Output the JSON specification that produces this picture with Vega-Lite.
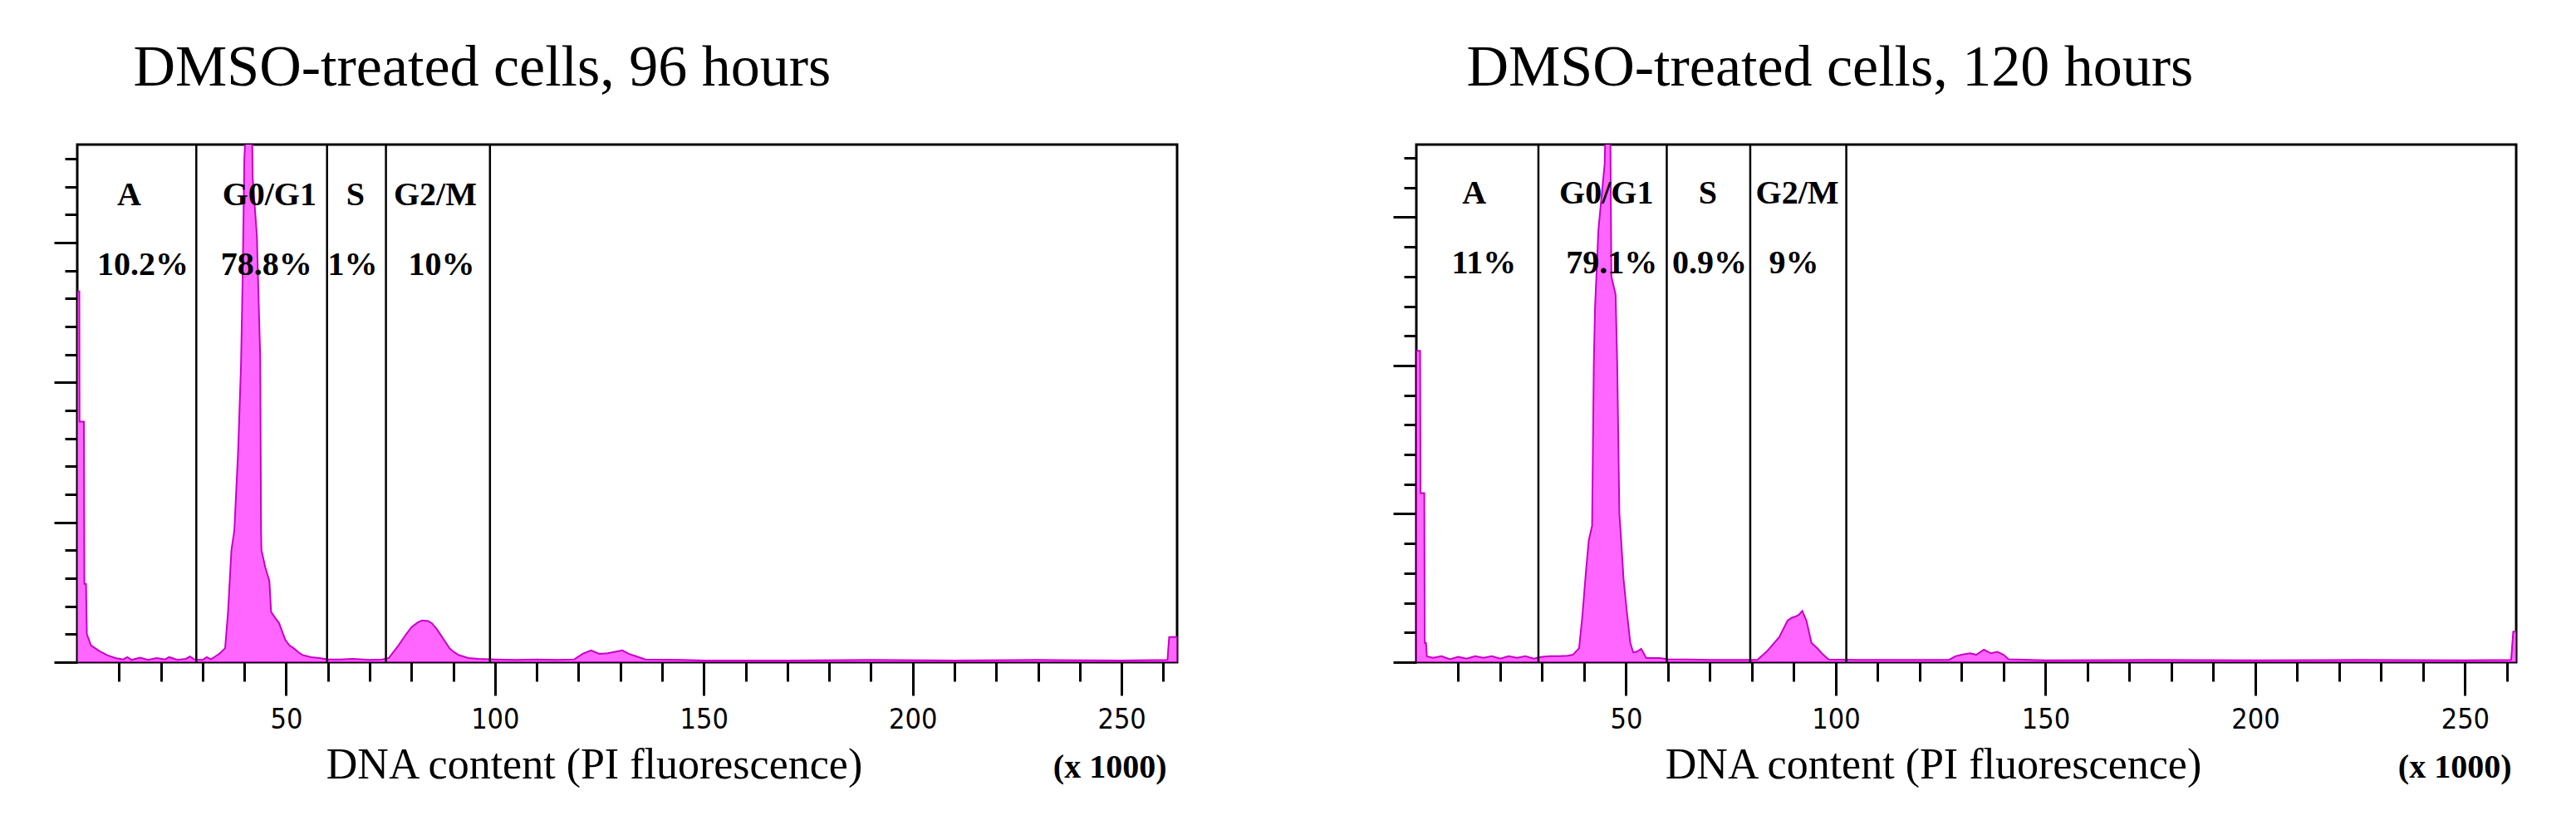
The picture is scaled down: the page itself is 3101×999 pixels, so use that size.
{
  "$schema": "https://vega.github.io/schema/vega-lite/v6.json",
  "background": "white",
  "padding": {"left": 62, "top": 45, "right": 0, "bottom": 0},
  "spacing": 288,
  "bounds": "flush",
  "datasets": {
    "hist96": [
      {"x": 0, "count": 13.25}, {"x": 0.5, "count": 13.25}, {"x": 0.55, "count": 8.6}, {"x": 1.6, "count": 8.6},
      {"x": 1.7, "count": 2.8}, {"x": 2.1, "count": 2.8}, {"x": 2.3, "count": 1.0}, {"x": 3.3, "count": 0.6},
      {"x": 5.3, "count": 0.4}, {"x": 7.2, "count": 0.25}, {"x": 9.1, "count": 0.15}, {"x": 11, "count": 0.1},
      {"x": 12, "count": 0.18}, {"x": 13, "count": 0.08}, {"x": 15, "count": 0.16}, {"x": 17, "count": 0.08},
      {"x": 19, "count": 0.15}, {"x": 21, "count": 0.1}, {"x": 22, "count": 0.18}, {"x": 24, "count": 0.08},
      {"x": 26, "count": 0.12}, {"x": 27, "count": 0.2}, {"x": 28, "count": 0.1}, {"x": 30, "count": 0.08},
      {"x": 31, "count": 0.18}, {"x": 32, "count": 0.1}, {"x": 33, "count": 0.2}, {"x": 34, "count": 0.3},
      {"x": 35.4, "count": 0.5}, {"x": 36.1, "count": 1.8}, {"x": 36.9, "count": 4.0}, {"x": 37.6, "count": 4.7},
      {"x": 38.5, "count": 7.5}, {"x": 39.2, "count": 10.6}, {"x": 39.6, "count": 13.8}, {"x": 40.0, "count": 18.0},
      {"x": 40.5, "count": 19.5}, {"x": 41.8, "count": 19.5}, {"x": 42.0, "count": 17.3}, {"x": 43.0, "count": 15.25},
      {"x": 43.8, "count": 10.9}, {"x": 44.0, "count": 4.7}, {"x": 44.1, "count": 4.0}, {"x": 45.0, "count": 3.4},
      {"x": 46.0, "count": 2.9}, {"x": 46.4, "count": 1.8}, {"x": 47.3, "count": 1.6}, {"x": 48.3, "count": 1.4},
      {"x": 49.8, "count": 0.8}, {"x": 50.8, "count": 0.6}, {"x": 51.8, "count": 0.5}, {"x": 53, "count": 0.35},
      {"x": 54, "count": 0.25}, {"x": 56, "count": 0.18}, {"x": 58, "count": 0.15}, {"x": 60, "count": 0.1},
      {"x": 63, "count": 0.1}, {"x": 66, "count": 0.12}, {"x": 70, "count": 0.08}, {"x": 73, "count": 0.1},
      {"x": 74.6, "count": 0.15}, {"x": 76.9, "count": 0.6}, {"x": 78.5, "count": 0.95}, {"x": 80, "count": 1.25},
      {"x": 81.5, "count": 1.42}, {"x": 82.6, "count": 1.49}, {"x": 84, "count": 1.47}, {"x": 84.9, "count": 1.39},
      {"x": 86, "count": 1.2}, {"x": 86.9, "count": 1.0}, {"x": 88, "count": 0.75}, {"x": 89.1, "count": 0.5},
      {"x": 90.3, "count": 0.35}, {"x": 91.4, "count": 0.25}, {"x": 93.6, "count": 0.15}, {"x": 96, "count": 0.12},
      {"x": 100, "count": 0.1}, {"x": 105, "count": 0.08}, {"x": 110, "count": 0.1}, {"x": 115, "count": 0.08},
      {"x": 119, "count": 0.1}, {"x": 121, "count": 0.3}, {"x": 123, "count": 0.42}, {"x": 125, "count": 0.3},
      {"x": 127, "count": 0.32}, {"x": 129, "count": 0.38}, {"x": 130.5, "count": 0.42}, {"x": 132, "count": 0.3},
      {"x": 134, "count": 0.2}, {"x": 136, "count": 0.1}, {"x": 145, "count": 0.08}, {"x": 150, "count": 0.06},
      {"x": 170, "count": 0.06}, {"x": 190, "count": 0.08}, {"x": 210, "count": 0.06}, {"x": 230, "count": 0.08},
      {"x": 250, "count": 0.06}, {"x": 261, "count": 0.08}, {"x": 261.4, "count": 0.9}, {"x": 263.3, "count": 0.9}
    ],
    "hist120": [
      {"x": 0, "count": 10.5}, {"x": 0.9, "count": 10.5}, {"x": 1.0, "count": 5.7}, {"x": 1.9, "count": 5.7},
      {"x": 2.0, "count": 0.65}, {"x": 2.3, "count": 0.65}, {"x": 2.5, "count": 0.2}, {"x": 4, "count": 0.15},
      {"x": 6, "count": 0.2}, {"x": 8, "count": 0.1}, {"x": 10, "count": 0.18}, {"x": 12, "count": 0.12},
      {"x": 14, "count": 0.2}, {"x": 16, "count": 0.15}, {"x": 18, "count": 0.2}, {"x": 20, "count": 0.12},
      {"x": 22, "count": 0.2}, {"x": 24, "count": 0.15}, {"x": 26, "count": 0.2}, {"x": 28, "count": 0.12},
      {"x": 30, "count": 0.18}, {"x": 32, "count": 0.2}, {"x": 34, "count": 0.2}, {"x": 36, "count": 0.22},
      {"x": 37.3, "count": 0.25}, {"x": 38.8, "count": 0.47}, {"x": 39.6, "count": 1.59}, {"x": 40.4, "count": 3.0},
      {"x": 41.1, "count": 4.1}, {"x": 41.9, "count": 4.6}, {"x": 42.3, "count": 10.0}, {"x": 42.6, "count": 11.95},
      {"x": 43.4, "count": 14.57}, {"x": 44.9, "count": 16.8}, {"x": 45.2, "count": 18.8}, {"x": 46.2, "count": 18.8},
      {"x": 46.5, "count": 13.0}, {"x": 47.5, "count": 12.4}, {"x": 47.9, "count": 10.0}, {"x": 48.4, "count": 5.0},
      {"x": 48.7, "count": 4.4}, {"x": 49.4, "count": 2.8}, {"x": 50.2, "count": 1.68}, {"x": 51.0, "count": 0.66},
      {"x": 51.7, "count": 0.33}, {"x": 52.5, "count": 0.35}, {"x": 53.6, "count": 0.45}, {"x": 54.2, "count": 0.3},
      {"x": 54.8, "count": 0.14}, {"x": 58, "count": 0.14}, {"x": 60, "count": 0.1}, {"x": 70, "count": 0.08},
      {"x": 81.3, "count": 0.08}, {"x": 83.6, "count": 0.37}, {"x": 86.5, "count": 0.84}, {"x": 88.5, "count": 1.4},
      {"x": 89.5, "count": 1.5}, {"x": 90.4, "count": 1.54}, {"x": 91.2, "count": 1.6}, {"x": 92.0, "count": 1.73},
      {"x": 93.0, "count": 1.4}, {"x": 94.2, "count": 0.65}, {"x": 95.6, "count": 0.47}, {"x": 97, "count": 0.25},
      {"x": 98.3, "count": 0.09}, {"x": 105, "count": 0.08}, {"x": 127, "count": 0.08}, {"x": 128.5, "count": 0.2},
      {"x": 130, "count": 0.25}, {"x": 132, "count": 0.3}, {"x": 133.5, "count": 0.25}, {"x": 135.3, "count": 0.42},
      {"x": 137, "count": 0.3}, {"x": 138.5, "count": 0.35}, {"x": 140, "count": 0.25}, {"x": 141.2, "count": 0.1},
      {"x": 150, "count": 0.06}, {"x": 175, "count": 0.08}, {"x": 200, "count": 0.06}, {"x": 225, "count": 0.08},
      {"x": 250, "count": 0.06}, {"x": 261, "count": 0.08}, {"x": 261.5, "count": 1.03}, {"x": 262.2, "count": 1.03}
    ],
    "gates96": [{"x": 28.5}, {"x": 59.8}, {"x": 73.9}, {"x": 98.8}],
    "gates120": [{"x": 29.1}, {"x": 59.7}, {"x": 79.6}, {"x": 102.5}],
    "labels96": [
      {"x": 12.4, "y": 16.7, "label": "A"}, {"x": 46.0, "y": 16.7, "label": "G0/G1"},
      {"x": 66.6, "y": 16.7, "label": "S"}, {"x": 85.7, "y": 16.7, "label": "G2/M"},
      {"x": 15.7, "y": 14.2, "label": "10.2%"}, {"x": 45.3, "y": 14.2, "label": "78.8%"},
      {"x": 65.9, "y": 14.2, "label": "1%"}, {"x": 87.2, "y": 14.2, "label": "10%"}
    ],
    "labels120": [
      {"x": 13.8, "y": 15.8, "label": "A"}, {"x": 45.3, "y": 15.8, "label": "G0/G1"},
      {"x": 69.5, "y": 15.8, "label": "S"}, {"x": 90.8, "y": 15.8, "label": "G2/M"},
      {"x": 16.1, "y": 13.45, "label": "11%"}, {"x": 46.6, "y": 13.45, "label": "79.1%"},
      {"x": 69.9, "y": 13.45, "label": "0.9%"}, {"x": 90.0, "y": 13.45, "label": "9%"}
    ]
  },
  "hconcat": [
    {
      "width": 1324,
      "height": 623,
      "title": {"text": "DMSO-treated cells, 96 hours", "anchor": "start", "dx": 97, "offset": 0, "baseline": "alphabetic"},
      "layer": [
        {
          "data": {"name": "hist96"},
          "mark": {"type": "area", "clip": true, "fill": "#ff66ff", "stroke": "#c800c8", "strokeWidth": 2, "fillOpacity": 1},
          "encoding": {
            "x": {"field": "x", "type": "quantitative", "scale": {"domain": [0, 263.3], "nice": false, "zero": false},
              "axis": {"orient": "bottom", "values": [10, 20, 30, 40, 50, 60, 70, 80, 90, 100, 110, 120, 130, 140, 150, 160, 170, 180, 190, 200, 210, 220, 230, 240, 250, 260], "tickSize": 23, "labels": false, "title": null}},
            "y": {"field": "count", "type": "quantitative", "scale": {"domain": [0, 18.5], "nice": false},
              "axis": {"orient": "left", "values": [1, 2, 3, 4, 5, 6, 7, 8, 9, 10, 11, 12, 13, 14, 15, 16, 17, 18], "tickSize": 15, "labels": false, "title": null}}
          }
        },
        {
          "data": {"name": "gates96"},
          "mark": {"type": "rule", "color": "black", "strokeWidth": 2.5},
          "encoding": {
            "x": {"field": "x", "type": "quantitative",
              "axis": {"orient": "bottom", "values": [50, 100, 150, 200, 250], "tickSize": 40, "title": "DNA content (PI fluorescence)", "titleX": 622, "titleY": 139}}
          }
        },
        {
          "data": {"name": "labels96"},
          "mark": {"type": "text", "font": "Liberation Serif", "fontWeight": "bold", "fontSize": 40, "baseline": "middle", "color": "black"},
          "encoding": {
            "x": {"field": "x", "type": "quantitative",
              "axis": {"orient": "bottom", "values": [], "ticks": false, "labels": false, "title": "(x 1000)", "titleX": 1311, "titleY": 138, "titleAlign": "right", "titleFontWeight": "bold", "titleFontSize": 40}},
            "y": {"field": "y", "type": "quantitative",
              "axis": {"orient": "left", "values": [0, 5, 10, 15], "tickSize": 28, "labels": false, "title": null}},
            "text": {"field": "label"}
          }
        }
      ],
      "resolve": {"axis": {"x": "independent", "y": "independent"}}
    },
    {
      "width": 1324,
      "height": 623,
      "title": {"text": "DMSO-treated cells, 120 hours", "anchor": "start", "dx": 90, "offset": 0, "baseline": "alphabetic"},
      "layer": [
        {
          "data": {"name": "hist120"},
          "mark": {"type": "area", "clip": true, "fill": "#ff66ff", "stroke": "#c800c8", "strokeWidth": 2, "fillOpacity": 1},
          "encoding": {
            "x": {"field": "x", "type": "quantitative", "scale": {"domain": [0, 262.2], "nice": false, "zero": false},
              "axis": {"orient": "bottom", "values": [10, 20, 30, 40, 50, 60, 70, 80, 90, 100, 110, 120, 130, 140, 150, 160, 170, 180, 190, 200, 210, 220, 230, 240, 250, 260], "tickSize": 23, "labels": false, "title": null}},
            "y": {"field": "count", "type": "quantitative", "scale": {"domain": [0, 17.45], "nice": false},
              "axis": {"orient": "left", "values": [1, 2, 3, 4, 5, 6, 7, 8, 9, 10, 11, 12, 13, 14, 15, 16, 17], "tickSize": 15, "labels": false, "title": null}}
          }
        },
        {
          "data": {"name": "gates120"},
          "mark": {"type": "rule", "color": "black", "strokeWidth": 2.5},
          "encoding": {
            "x": {"field": "x", "type": "quantitative",
              "axis": {"orient": "bottom", "values": [50, 100, 150, 200, 250], "tickSize": 40, "title": "DNA content (PI fluorescence)", "titleX": 622, "titleY": 139}}
          }
        },
        {
          "data": {"name": "labels120"},
          "mark": {"type": "text", "font": "Liberation Serif", "fontWeight": "bold", "fontSize": 40, "baseline": "middle", "color": "black"},
          "encoding": {
            "x": {"field": "x", "type": "quantitative",
              "axis": {"orient": "bottom", "values": [], "ticks": false, "labels": false, "title": "(x 1000)", "titleX": 1318, "titleY": 138, "titleAlign": "right", "titleFontWeight": "bold", "titleFontSize": 40}},
            "y": {"field": "y", "type": "quantitative",
              "axis": {"orient": "left", "values": [0, 5, 10, 15], "tickSize": 28, "labels": false, "title": null}},
            "text": {"field": "label"}
          }
        }
      ],
      "resolve": {"axis": {"x": "independent", "y": "independent"}}
    }
  ],
  "config": {
    "view": {"stroke": "black", "strokeWidth": 3},
    "title": {"font": "Liberation Serif", "fontSize": 70, "fontWeight": "normal", "color": "black"},
    "axis": {
      "domain": false,
      "grid": false,
      "tickColor": "black",
      "tickWidth": 3,
      "labelFont": "Liberation Sans Narrow, DejaVu Sans Condensed, sans-serif",
      "labelFontSize": 34,
      "labelColor": "black",
      "labelPadding": 12,
      "titleFont": "Liberation Serif",
      "titleFontSize": 52,
      "titleFontWeight": "normal",
      "titleColor": "black",
      "titleBaseline": "alphabetic",
      "titleAlign": "center",
      "titleAnchor": null
    }
  }
}
